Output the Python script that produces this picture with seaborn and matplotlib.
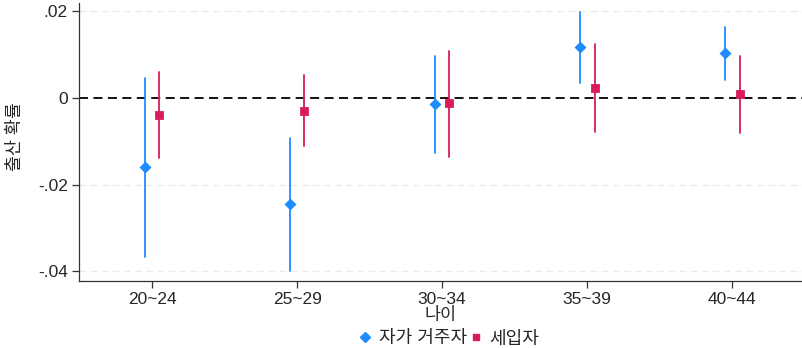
import numpy as np
import pandas as pd
import matplotlib
matplotlib.use('Agg')
import matplotlib.pyplot as plt
import seaborn as sns
from matplotlib.lines import Line2D

# --- values ---
ages = ['20~24', '25~29', '30~34', '35~39', '40~44']
groups = ['자가 거주자', '세입자']

own_est = [-0.0159, -0.0244, -0.0014, 0.0118, 0.0104]
own_lo = [-0.0366, -0.0399, -0.0127, 0.0035, 0.0042]
own_hi = [0.0046, -0.0092, 0.0097, 0.0198, 0.0164]

rent_est = [-0.0039, -0.0030, -0.0012, 0.0023, 0.0009]
rent_lo = [-0.0138, -0.0111, -0.0136, -0.0078, -0.0080]
rent_hi = [0.0060, 0.0053, 0.0108, 0.0124, 0.0097]

yticks = [0.02, 0.0, -0.02, -0.04]
yticklabels = ['.02', '0', '-.02', '-.04']

colors = {'자가 거주자': '#1e8cff', '세입자': '#d81b5e'}
markers = {'자가 거주자': 'D', '세입자': 's'}

# long table: lo / est / hi rows per point -> median = estimate, 100% interval = CI
rows = []
for g, est, lo, hi in [(groups[0], own_est, own_lo, own_hi), (groups[1], rent_est, rent_lo, rent_hi)]:
    for a, e, l, h in zip(ages, est, lo, hi):
        for v in (l, e, h):
            rows.append({'age': a, 'group': g, 'value': v})
df = pd.DataFrame(rows)

sns.set_style('white')
plt.rcParams['font.family'] = ['Liberation Sans', 'Noto Sans CJK KR', 'DejaVu Sans']

fig = plt.figure(figsize=(8.02, 3.48), dpi=100)
ax = fig.add_axes([0.0985, 0.1925, 0.9015, 0.7985])

ax.axhline(0, color='black', lw=1.3, ls=(0, (5, 3)), zorder=1)
for t in [0.02, -0.02, -0.04]:
    ax.axhline(t, color='#ebebeb', lw=1.0, ls=(0, (5, 3)), zorder=0)

sns.pointplot(data=df, x='age', y='value', hue='group', order=ages, hue_order=groups,
              estimator='median', errorbar=('pi', 100), dodge=0.1,
              palette=colors, markers=['D', 's'], linestyles='none',
              markersize=4.2, err_kws={'linewidth': 1.3}, legend=False, ax=ax)

ax.set_xlim(-0.503, 4.48)
ax.set_ylim(-0.0422, 0.0219)
ax.set_yticks(yticks)
ax.set_yticklabels(yticklabels)
ax.tick_params(axis='both', labelsize=12.5, length=5, width=0.9, color='#333333',
               direction='out', bottom=True, left=True, pad=3)
for s in ['top', 'right']:
    ax.spines[s].set_visible(False)
for s in ['left', 'bottom']:
    ax.spines[s].set_color('#333333')
    ax.spines[s].set_linewidth(0.9)

ax.set_xlabel('나이', fontsize=12.5, labelpad=0)
ax.set_ylabel('출산 확률', fontsize=12.5)
ax.yaxis.set_label_coords(-0.077, 0.52)

handles = [Line2D([], [], color=colors[g], marker=markers[g], ls='none', markersize=4.8) for g in groups]
fig.legend(handles, groups, loc='center', bbox_to_anchor=(0.558, 0.026), ncol=2, frameon=False,
           fontsize=13, handletextpad=0.25, columnspacing=0.0, handlelength=1.0)

fig.savefig('out.png', dpi=100)
